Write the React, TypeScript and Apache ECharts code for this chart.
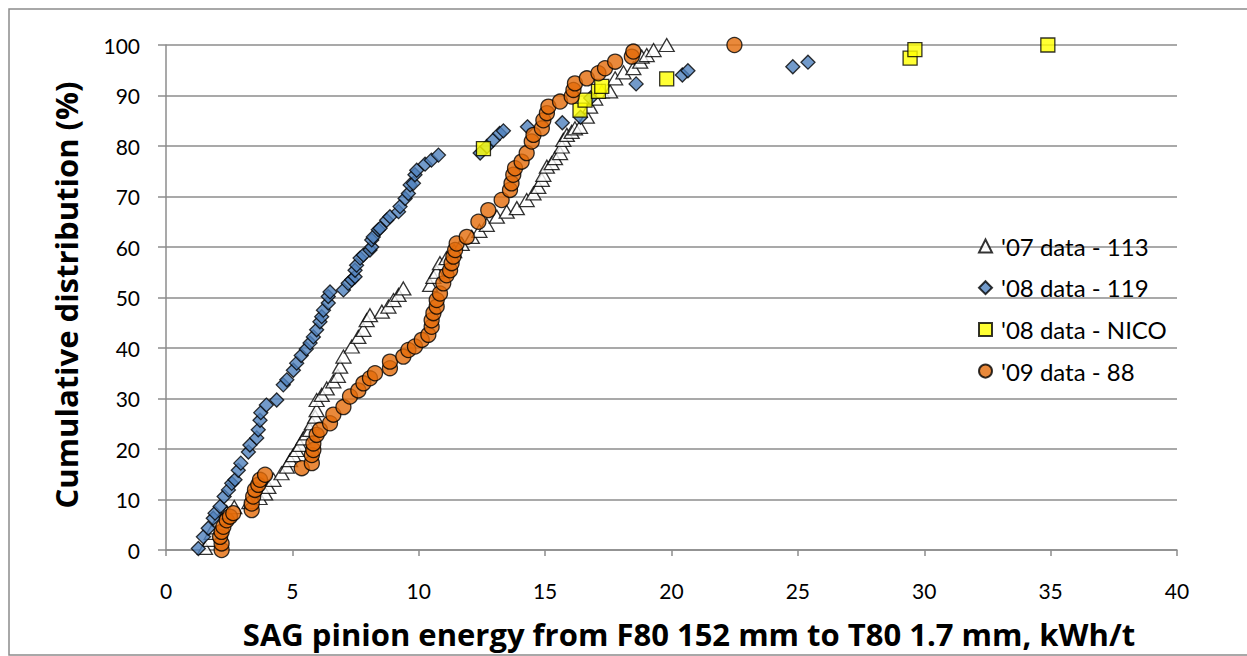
import React, { useEffect, useRef } from "react";
import * as echarts from "echarts";

const seriesNames = ["'07 data - 113", "'08 data - 119", "'08 data - NICO", "'09 data - 88"];

const xTicks = { min: 0, max: 40, interval: 5 };
const yTicks = { min: 0, max: 100, interval: 10 };

const data07: number[][] = [
  [1.54, 0.4], [1.74, 2], [1.81, 3.4], [1.9, 4.5], [2.1, 6], [2.4, 7.5], [2.7, 8.5], [3.3, 9.5], [3.7, 10.3],
  [3.92, 11.2], [4.05, 12.5], [4.25, 13.9], [4.57, 15.2], [4.78, 16.5], [4.91, 17.8], [5.04, 18.8], [5.17, 19.8],
  [5.3, 20.8], [5.43, 22.1], [5.57, 23.1], [5.7, 23.8], [5.77, 25.1], [5.9, 26.4], [5.96, 27.7], [5.96, 29.7],
  [6.16, 30.7], [6.36, 32], [6.62, 33.4], [6.8, 34.5], [6.89, 36.3], [7.02, 38.3], [7.35, 40.3], [7.61, 42.2],
  [7.81, 43.6], [7.94, 45.5], [8.07, 46.5], [8.54, 47.2], [8.8, 48.2], [9.0, 49.5], [9.2, 50.5], [9.39, 51.8],
  [10.45, 52.5], [10.58, 54.1], [10.71, 55.1], [10.84, 56.8], [11.1, 57.8], [11.4, 59.2], [11.7, 60.6], [12.1, 62],
  [12.4, 63.2], [12.69, 64.4], [13.09, 66], [13.48, 67], [13.88, 67.7], [14.27, 69.3], [14.54, 70.6], [14.73, 71.9],
  [14.87, 73.3], [14.93, 74.3], [15.07, 75.9], [15.26, 76.6], [15.39, 77.6], [15.59, 78.6], [15.66, 79.9],
  [15.72, 81.2], [15.86, 82.2], [16.05, 82.8], [16.18, 83.5], [16.38, 83.8], [16.65, 85.8], [16.78, 87.8],
  [16.98, 89.4], [17.24, 90.8], [17.57, 90.8], [17.77, 93.4], [18.1, 94.6], [18.49, 95.4], [18.76, 96.7],
  [18.82, 97.7], [19.02, 98], [19.29, 99], [19.81, 100],
];

const data08: number[][] = [
  [1.28, 0.3], [1.48, 2.6], [1.67, 4.3], [1.87, 6.3], [1.94, 7.3], [2.14, 8.6], [2.3, 10.6], [2.47, 11.9],
  [2.6, 13.2], [2.73, 13.9], [2.86, 15.8], [2.96, 17.2], [3.26, 19.4], [3.32, 20.8], [3.59, 22.2], [3.65, 23.8],
  [3.72, 25.7], [3.75, 27.2], [3.97, 28.7], [4.38, 29.7], [4.64, 32.7], [4.78, 33.7], [5.04, 35.6], [5.17, 37],
  [5.35, 38.5], [5.55, 39.8], [5.7, 41], [5.83, 42.2], [5.96, 43.6], [6.09, 45.2], [6.16, 46.2], [6.23, 47.5],
  [6.42, 48.9], [6.42, 50.2], [6.49, 51.1], [7.02, 51.5], [7.21, 52.8], [7.35, 53.5], [7.48, 54.1], [7.48, 55.4],
  [7.54, 56.4], [7.68, 57.8], [7.81, 58.4], [8.07, 59.4], [8.14, 60], [8.14, 61.4], [8.2, 62], [8.4, 63.4],
  [8.47, 63.7], [8.73, 65.3], [8.86, 66], [9.2, 67], [9.26, 68], [9.46, 69.6], [9.59, 70.6], [9.66, 72.3],
  [9.79, 72.6], [9.85, 74.3], [9.92, 75.2], [10.25, 76.4], [10.5, 77.2], [10.78, 78.2], [12.43, 78.6],
  [12.7, 79.9], [12.95, 81.2], [13.2, 82.5], [13.35, 83], [14.3, 83.8], [15.68, 84.6], [16.4, 85.7],
  [16.8, 89.5], [18.6, 92.3], [20.43, 94.06], [20.65, 94.9], [24.8, 95.7], [25.4, 96.6],
];

const dataNico: number[][] = [
  [12.56, 79.5], [16.38, 87.1], [16.58, 89.1], [17.11, 90.8], [17.24, 91.8], [19.81, 93.3],
  [29.44, 97.4], [29.63, 99.1], [34.89, 100],
];

const data09: number[][] = [
  [2.2, 0], [2.2, 1.3], [2.14, 2.6], [2.2, 3.6], [2.27, 4.6], [2.4, 5.9], [2.53, 6.6], [2.66, 7.3], [3.39, 7.9],
  [3.39, 9.2], [3.45, 10.6], [3.52, 11.9], [3.65, 12.9], [3.72, 13.9], [3.92, 14.9], [5.37, 16.2], [5.77, 17.2],
  [5.77, 18.8], [5.83, 19.8], [5.83, 21.1], [5.96, 22.8], [6.09, 23.8], [6.49, 25.1], [6.62, 26.8], [7.02, 28.3],
  [7.28, 30.4], [7.61, 31.6], [7.81, 33], [8.07, 34], [8.27, 35], [8.86, 36], [8.86, 37.3], [9.39, 38.3],
  [9.59, 39.6], [9.85, 40.3], [10.12, 41.6], [10.38, 42.6], [10.51, 44.2], [10.51, 45.5], [10.58, 46.9],
  [10.71, 48.2], [10.71, 49.5], [10.84, 50.8], [10.97, 52.8], [11.1, 54.4], [11.24, 55.4], [11.3, 56.8],
  [11.37, 58.1], [11.44, 59.4], [11.5, 60.7], [11.9, 62], [12.36, 65], [12.75, 67.3], [13.28, 69.3],
  [13.61, 71.3], [13.67, 72.6], [13.74, 74.3], [13.81, 75.6], [14.07, 76.9], [14.27, 78.6], [14.47, 80.9],
  [14.54, 82.2], [14.87, 83.5], [14.93, 85.1], [15.07, 86.5], [15.13, 87.8], [15.59, 88.8], [16.05, 89.8],
  [16.12, 91.1], [16.18, 92.4], [16.65, 93.4], [17.11, 94.4], [17.37, 95.4], [17.77, 96.7], [18.43, 97.7],
  [18.49, 98.7], [22.49, 100],
];

const xTitle = "SAG pinion energy from F80 152 mm to T80 1.7 mm, kWh/t";
const yTitle = "Cumulative distribution (%)";

const FONT = "Lato";
const TITLE_FONT = "'Open Sans'";
const GRAY = "#8c8c8c";

export default function App() {
  const ref = useRef<HTMLDivElement>(null);
  useEffect(() => {
    if (!ref.current) return;
    const chart = echarts.init(ref.current, undefined, { renderer: "svg" });
    const border = { borderColor: "#000", borderWidth: 1.3 };
    chart.setOption({
      animation: false,
      backgroundColor: "#fff",
      textStyle: { fontFamily: FONT },
      grid: { left: 166, right: 70, top: 45, bottom: 106, containLabel: false },
      xAxis: {
        type: "value",
        min: xTicks.min, max: xTicks.max, interval: xTicks.interval,
        axisLine: { show: true, lineStyle: { color: GRAY, width: 1.5 } },
        axisTick: { show: true, length: 6, lineStyle: { color: GRAY, width: 1.5 } },
        axisLabel: { color: "#000", fontSize: 21, fontFamily: FONT, margin: 30 },
        splitLine: { show: false },
      },
      yAxis: {
        type: "value",
        min: yTicks.min, max: yTicks.max, interval: yTicks.interval,
        axisLine: { show: true, lineStyle: { color: GRAY, width: 1.5 } },
        axisTick: { show: true, length: 8, lineStyle: { color: GRAY, width: 1.5 } },
        axisLabel: { color: "#000", fontSize: 21, fontFamily: FONT, margin: 26 },
        splitLine: { show: true, lineStyle: { color: GRAY, width: 1.5 } },
      },
      legend: {
        orient: "vertical",
        left: 973,
        top: 229,
        itemWidth: 13,
        itemHeight: 13,
        itemGap: 17.7,
        data: seriesNames,
        textStyle: { color: "#000", fontSize: 24, fontFamily: FONT, lineHeight: 24, padding: [0, 0, 0, 4] },
      },
      graphic: [
        {
          type: "rect",
          shape: { x: 9, y: 9, width: 1250, height: 646 },
          style: { fill: "none", stroke: GRAY, lineWidth: 1.5 },
          silent: true,
        },
        {
          type: "text",
          x: 689, y: 634,
          style: {
            text: xTitle, fill: "#000", font: `bold 31px ${TITLE_FONT}`,
            textAlign: "center", textVerticalAlign: "middle",
          },
        },
        {
          type: "text",
          x: 66, y: 295, rotation: Math.PI / 2,
          style: {
            text: yTitle, fill: "#000", font: `bold 31px ${TITLE_FONT}`,
            textAlign: "center", textVerticalAlign: "middle",
          },
        },
      ],
      series: [
        {
          name: seriesNames[0], type: "scatter", data: data07, symbol: "triangle", symbolSize: [15, 13],
          itemStyle: { color: "#fff", ...border }, z: 2,
        },
        {
          name: seriesNames[1], type: "scatter", data: data08, symbol: "diamond", symbolSize: 14,
          itemStyle: { color: "#4F81BD", ...border }, z: 3,
        },
        {
          name: seriesNames[2], type: "scatter", data: dataNico, symbol: "rect", symbolSize: 14,
          itemStyle: { color: "#FFFF00", ...border }, z: 4,
        },
        {
          name: seriesNames[3], type: "scatter", data: data09, symbol: "circle", symbolSize: 15,
          itemStyle: { color: "#E46C0A", ...border }, z: 5,
        },
      ],
    });
    return () => chart.dispose();
  }, []);
  return <div ref={ref} style={{ position: "fixed", left: 0, top: 0, width: 1247, height: 656 }} />;
}
